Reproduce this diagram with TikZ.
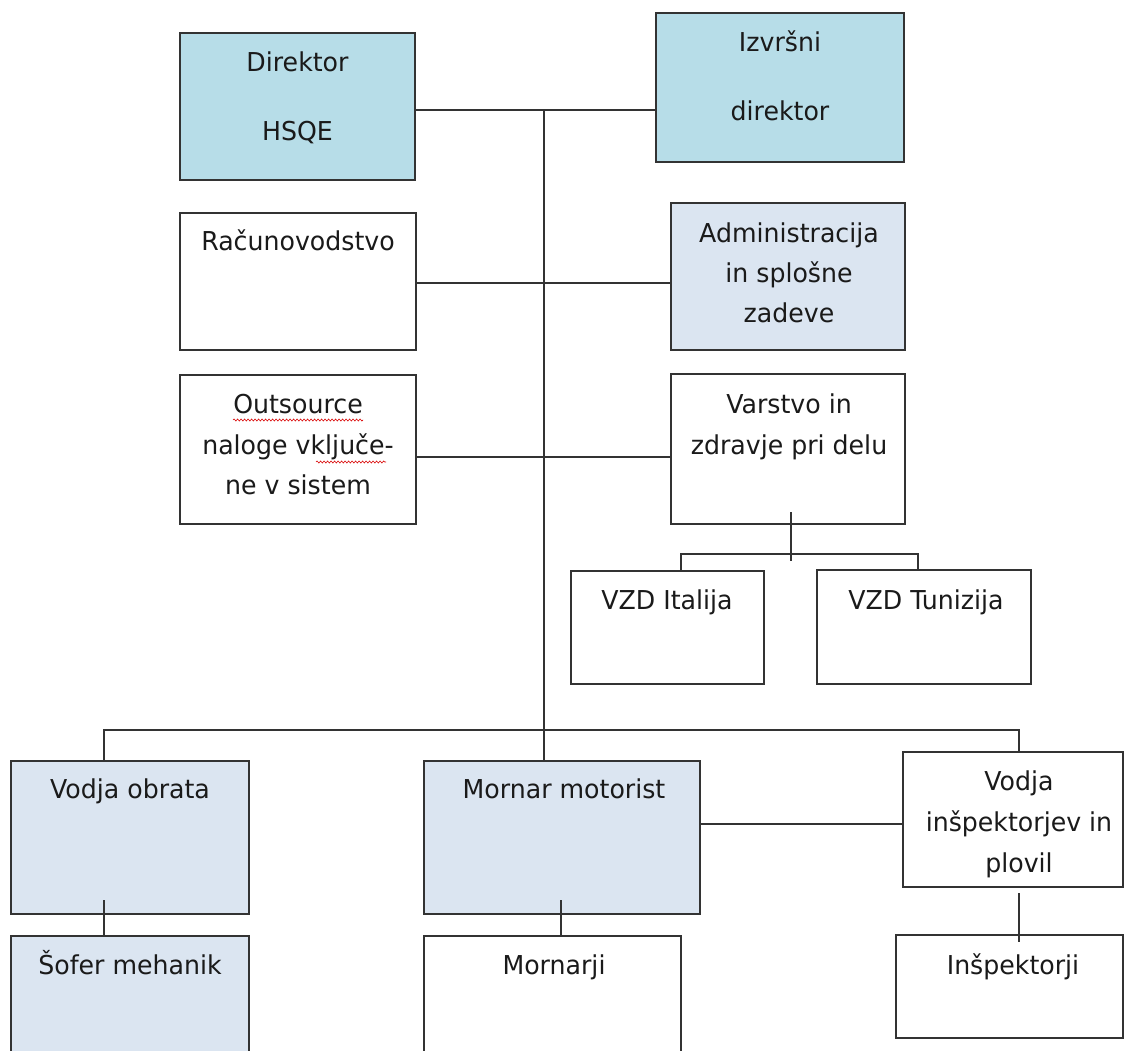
\documentclass[tikz,border=0pt]{standalone}
\usepackage{fontspec}
\setmainfont{DejaVu Sans}[FakeStretch=0.97]
\usetikzlibrary{decorations.pathmorphing}
\definecolor{topblue}{HTML}{B7DDE8}
\definecolor{lightblue}{HTML}{DBE5F1}
\definecolor{ink}{HTML}{1A1A1A}
\definecolor{edge}{HTML}{333333}
\tikzset{
  box/.style={draw=edge, line width=1.6pt, inner sep=0pt, outer sep=0pt},
  wbox/.style={box, fill=white},
  bbox/.style={box, fill=topblue},
  lbox/.style={box, fill=lightblue},
  txt/.style={anchor=base, inner sep=0pt, text=ink, font=\fontsize{26}{31}\selectfont},
  conn/.style={draw=edge, line width=1.6pt},
  spell/.style={draw=red!85!black, line width=0.6pt, decorate, decoration={snake, amplitude=1pt, segment length=3.5pt}}
}
\begin{document}
\begin{tikzpicture}[x=1pt,y=-1pt]
\useasboundingbox (0,0) rectangle (1124,1050);
\fill[white] (0,0) rectangle (1124,1050);

% boxes
\node[bbox, minimum width=235, minimum height=147] (hsqe) at (297.5,106.5) {};
\node[bbox, minimum width=248, minimum height=149] (izv) at (780,87.5) {};
\node[wbox, minimum width=236, minimum height=137] (rac) at (298,281.5) {};
\node[lbox, minimum width=234, minimum height=147] (adm) at (788,276.5) {};
\node[wbox, minimum width=236, minimum height=149] (out) at (298,449.5) {};
\node[wbox, minimum width=234, minimum height=150] (var) at (788,449) {};
\node[wbox, minimum width=193, minimum height=113] (ita) at (667.5,627.5) {};
\node[wbox, minimum width=214, minimum height=114] (tun) at (924,627) {};
\node[lbox, minimum width=238, minimum height=153] (vob) at (130,837.5) {};
\node[lbox, minimum width=238, minimum height=130] (sof) at (130,1001) {};
\node[lbox, minimum width=276, minimum height=153] (mor) at (562,837.5) {};
\node[wbox, minimum width=257, minimum height=130] (mrj) at (552.5,1001) {};
\node[wbox, minimum width=220, minimum height=135] (vin) at (1013,819.5) {};
\node[wbox, minimum width=227, minimum height=103] (ins) at (1009.5,986.5) {};

% texts
\node[txt] (hsqe1) at (297.5,71) {Direktor};
\node[txt] (hsqe2) at (297.5,140) {HSQE};
\node[txt] (izv1) at (780,51) {Izvršni};
\node[txt] (izv2) at (780,120) {direktor};
\node[txt] (rac1) at (298,250) {Računovodstvo};
\node[txt] (adm1) at (789,242) {Administracija};
\node[txt] (adm2) at (789,282) {in splošne};
\node[txt] (adm3) at (789,322) {zadeve};
\node[txt] (out1) at (298,413) {Outsource};
\node[txt] (out2) at (298,454) {naloge vključe-};
\node[txt] (out3) at (298,494) {ne v sistem};
\node[txt] (var1) at (789,413) {Varstvo in};
\node[txt] (var2) at (789,454) {zdravje pri delu};
\node[txt] (ita1) at (667,609) {VZD Italija};
\node[txt] (tun1) at (926,609) {VZD Tunizija};
\node[txt] (vob1) at (130,798) {Vodja obrata};
\node[txt] (mor1) at (564,798) {Mornar motorist};
\node[txt] (vin1) at (1019,790) {Vodja};
\node[txt] (vin2) at (1019,831) {inšpektorjev in};
\node[txt] (vin3) at (1019,872) {plovil};
\node[txt] (sof1) at (130,974) {Šofer mehanik};
\node[txt] (mrj1) at (554,974) {Mornarji};
\node[txt] (ins1) at (1013,974) {Inšpektorji};

% spell-check underlines
\draw[spell] (233,420) -- (363,420);
\draw[spell] (316,462) -- (386,462);

% connectors
\coordinate (j1) at (544,110);
\coordinate (j2) at (544,283);
\coordinate (j3) at (544,457);
\draw[conn] (hsqe.east |- j1) -- (izv.west |- j1);
\draw[conn] (j1) -- (j1 |- mor.north);
\draw[conn] (rac.east |- j2) -- (adm.west |- j2);
\draw[conn] (out.east |- j3) -- (var.west |- j3);

\coordinate (v1) at (791,512);
\coordinate (v2) at (791,561);
\draw[conn] (v1) -- (v2);
\coordinate (ia) at (681,554);
\coordinate (ta) at (918,554);
\draw[conn] (ia |- ita.north) -- (ia) -- (ta) -- (ta |- tun.north);

\coordinate (b1) at (104,730);
\coordinate (b2) at (1019,730);
\draw[conn] (b1 |- vob.north) -- (b1) -- (b2) -- (b2 |- vin.north);
\coordinate (m1) at (0,824);
\draw[conn] (mor.east |- m1) -- (vin.west |- m1);

\coordinate (s1) at (104,900);
\draw[conn] (s1) -- (s1 |- sof.north);
\coordinate (s2) at (561,900);
\draw[conn] (s2) -- (s2 |- mrj.north);
\coordinate (s3) at (1019,893);
\coordinate (s4) at (1019,942);
\draw[conn] (s3) -- (s4);
\end{tikzpicture}
\end{document}
